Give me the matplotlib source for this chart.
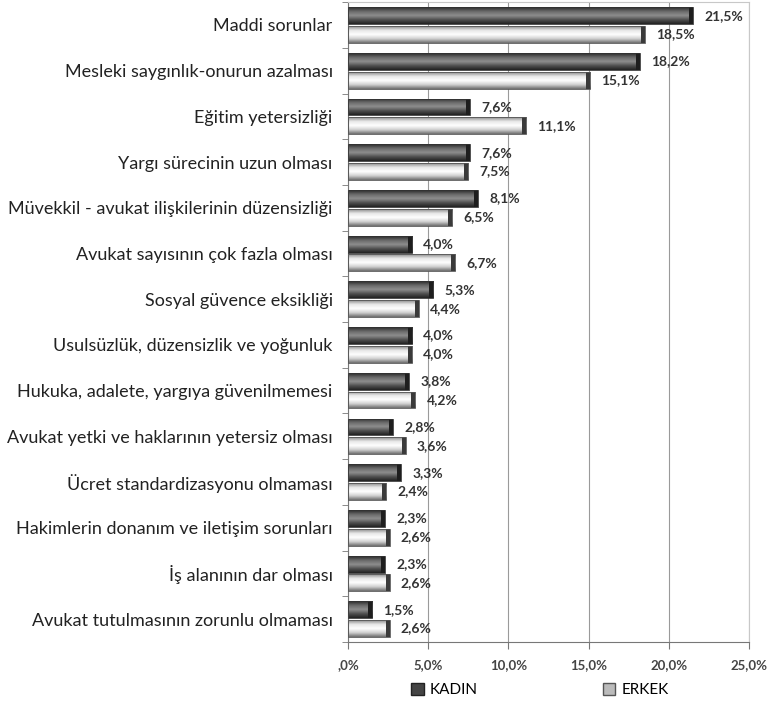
import matplotlib
matplotlib.use("Agg")
import matplotlib.pyplot as plt
import numpy as np
from matplotlib.colors import LinearSegmentedColormap
from matplotlib.patches import Patch

categories = [
    "Maddi sorunlar",
    "Mesleki saygınlık-onurun azalması",
    "Eğitim yetersizliği",
    "Yargı sürecinin uzun olması",
    "Müvekkil - avukat ilişkilerinin düzensizliği",
    "Avukat sayısının çok fazla olması",
    "Sosyal güvence eksikliği",
    "Usulsüzlük, düzensizlik ve yoğunluk",
    "Hukuka, adalete, yargıya güvenilmemesi",
    "Avukat yetki ve haklarının yetersiz olması",
    "Ücret standardizasyonu olmaması",
    "Hakimlerin donanım ve iletişim sorunları",
    "İş alanının dar olması",
    "Avukat tutulmasının zorunlu olmaması",
]
kadin = [21.5, 18.2, 7.6, 7.6, 8.1, 4.0, 5.3, 4.0, 3.8, 2.8, 3.3, 2.3, 2.3, 1.5]
erkek = [18.5, 15.1, 11.1, 7.5, 6.5, 6.7, 4.4, 4.0, 4.2, 3.6, 2.4, 2.6, 2.6, 2.6]
xticks = [0, 5, 10, 15, 20, 25]
xticklabels = [",0%", "5,0%", "10,0%", "15,0%", "20,0%", "25,0%"]
series_names = ["KADIN", "ERKEK"]

plt.rcParams['font.family'] = ['Lato', 'DejaVu Sans']

fig = plt.figure(figsize=(7.67, 7.11), dpi=100)
ax = fig.add_axes([0.4537, 0.097, 0.5228, 0.900])

dark_cmap = LinearSegmentedColormap.from_list("d", ["#2a2a2a", "#6a6a6a", "#8e8e8e", "#505050", "#222222"])
light_cmap = LinearSegmentedColormap.from_list("l", ["#8a8a8a", "#e8e8e8", "#ffffff", "#d0d0d0", "#6e6e6e"])

y = np.arange(len(categories))
h = 0.37
off = 0.205
grad = np.linspace(0, 1, 64).reshape(-1, 1)

def draw(vals, ypos, cmap, capcol, edge):
    bars = ax.barh(ypos, vals, height=h, color="none", edgecolor=edge, linewidth=0.6, zorder=3)
    for b, v in zip(bars, vals):
        x0, y0 = b.get_x(), b.get_y()
        w, hh = b.get_width(), b.get_height()
        im = ax.imshow(grad, cmap=cmap, aspect="auto", extent=[x0, x0 + w, y0 + hh, y0],
                       zorder=2.5, interpolation="bilinear")
        im.set_clip_path(b)
        ax.barh(y0 + hh / 2, 0.25, left=x0 + w - 0.25, height=hh, color=capcol, zorder=2.8)
    return bars

draw(kadin, y - off, dark_cmap, "#1e1e1e", "#333333")
draw(erkek, y + off, light_cmap, "#3a3a3a", "#555555")

for yi, v in zip(y - off, kadin):
    ax.text(v + 0.7, yi, f"{v:.1f}%".replace(".", ","), va="center", ha="left",
            fontsize=10, fontweight="bold", color="#333333", zorder=4)
for yi, v in zip(y + off, erkek):
    ax.text(v + 0.7, yi, f"{v:.1f}%".replace(".", ","), va="center", ha="left",
            fontsize=10, fontweight="bold", color="#333333", zorder=4)

ax.set_xlim(0, 25)
ax.set_ylim(len(categories) - 0.5, -0.5)
ax.set_xticks(xticks)
ax.set_xticklabels(xticklabels, fontsize=9.5, fontweight="bold", color="#444444")
ax.set_yticks(y)
ax.set_yticklabels(categories, fontsize=13, color="#222222")
ax.tick_params(axis="y", length=0, pad=11)
ax.set_yticks(np.arange(len(categories) + 1) - 0.5, minor=True)
ax.tick_params(axis="y", which="minor", length=4, color="#777777")
ax.tick_params(axis="x", length=5, color="#777777", pad=7)
ax.grid(axis="x", color="#9a9a9a", linewidth=0.8, zorder=0)
ax.set_axisbelow(True)
for s in ["top", "right"]:
    ax.spines[s].set_color("#c8c8c8")
for s in ["left", "bottom"]:
    ax.spines[s].set_color("#777777")

handles = [Patch(facecolor="#444444", edgecolor="#222222"),
           Patch(facecolor="#bbbbbb", edgecolor="#555555")]
fig.legend(handles, series_names, loc="center", bbox_to_anchor=(0.704, 0.029), ncol=2,
           frameon=False, fontsize=11, columnspacing=8.2, handlelength=0.8, handleheight=0.8,
           handletextpad=0.4)

fig.savefig("out.png", dpi=100)
